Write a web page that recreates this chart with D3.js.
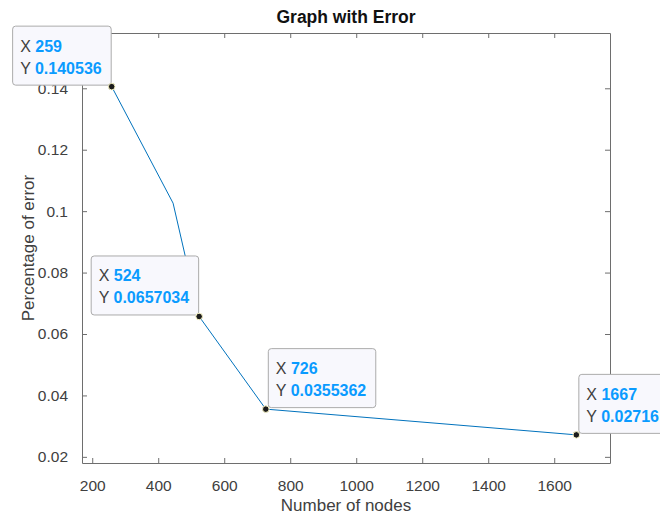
<!DOCTYPE html>
<html>
<head>
<meta charset="utf-8">
<script src="https://cdn.jsdelivr.net/npm/d3@7"></script>
<style>
  html, body { margin: 0; padding: 0; background: #fff; }
  svg { display: block; font-family: "Liberation Sans", Arial, Helvetica, sans-serif; }
</style>
</head>
<body>
<div id="chart"></div>
<script>
// values
const nodes = [259, 445, 524, 726, 1667];
const errors = [0.140536, 0.1026, 0.0657034, 0.0355362, 0.02716];
const xTicks = [200, 400, 600, 800, 1000, 1200, 1400, 1600];
const yTicks = [0.02, 0.04, 0.06, 0.08, 0.1, 0.12, 0.14];
// data tips: index into the series, side of the box, printed text
const tipIndex = [0, 2, 3, 4];
const tipSide = ["left", "left", "right", "right"];
const tipXText = ["259", "524", "726", "1667"];
const tipYText = ["0.140536", "0.0657034", "0.0355362", "0.02716"];

const W = 660, H = 516;
const plot = { left: 82, top: 33, right: 610, bottom: 463 };
const AXIS_COLOR = "#6e6e6e";
const TEXT_COLOR = "#404040";

const svg = d3.select("#chart").append("svg")
  .attr("width", W)
  .attr("height", H);

const x = d3.scaleLinear().domain([169, 1769]).range([plot.left, plot.right]);
const y = d3.scaleLinear().domain([0.018, 0.158]).range([plot.bottom, plot.top]);

const fmtX = d3.format("d");
const fmtY = d => String(+d.toFixed(2));

// axes, MATLAB style: box on, ticks pointing inward
function styleAxis(g) {
  g.select(".domain").attr("stroke", AXIS_COLOR).attr("stroke-width", 1);
  g.selectAll(".tick line").attr("stroke", AXIS_COLOR);
  g.selectAll(".tick text").attr("fill", TEXT_COLOR).style("font-size", "15.5px");
}

svg.append("g")
  .attr("transform", `translate(0,${plot.bottom})`)
  .call(d3.axisBottom(x).tickValues(xTicks).tickFormat(fmtX).tickSizeInner(-5).tickSizeOuter(0).tickPadding(17))
  .call(styleAxis);

svg.append("g")
  .attr("transform", `translate(0,${plot.top})`)
  .call(d3.axisTop(x).tickValues(xTicks).tickSizeInner(-5).tickSizeOuter(0).tickFormat(""))
  .call(styleAxis);

svg.append("g")
  .attr("transform", `translate(${plot.left},0)`)
  .call(d3.axisLeft(y).tickValues(yTicks).tickFormat(fmtY).tickSizeInner(-5).tickSizeOuter(0).tickPadding(14))
  .call(styleAxis);

svg.append("g")
  .attr("transform", `translate(${plot.right},0)`)
  .call(d3.axisRight(y).tickValues(yTicks).tickSizeInner(-5).tickSizeOuter(0).tickFormat(""))
  .call(styleAxis);

// title and labels
svg.append("text")
  .attr("x", (plot.left + plot.right) / 2)
  .attr("y", 23)
  .attr("text-anchor", "middle")
  .attr("font-weight", "bold")
  .style("font-size", "17.5px")
  .attr("fill", "#111")
  .text("Graph with Error");

svg.append("text")
  .attr("x", (plot.left + plot.right) / 2)
  .attr("y", 511)
  .attr("text-anchor", "middle")
  .style("font-size", "17px")
  .attr("fill", TEXT_COLOR)
  .text("Number of nodes");

svg.append("text")
  .attr("transform", `translate(34,${(plot.top + plot.bottom) / 2}) rotate(-90)`)
  .attr("text-anchor", "middle")
  .style("font-size", "17px")
  .attr("fill", TEXT_COLOR)
  .text("Percentage of error");

// the series
const pts = nodes.map((n, i) => [n, errors[i]]);
svg.append("path")
  .datum(pts)
  .attr("fill", "none")
  .attr("stroke", "#0072BD")
  .attr("stroke-width", 1)
  .attr("d", d3.line().x(d => x(d[0])).y(d => y(d[1])));

// data tips
tipIndex.forEach((idx, k) => {
  const px = x(nodes[idx]);
  const py = y(errors[idx]);
  const g = svg.append("g");
  const box = g.append("rect")
    .attr("rx", 3).attr("ry", 3)
    .attr("fill", "#f8f8fd")
    .attr("stroke", "#ababab")
    .attr("stroke-width", 1);

  const t = g.append("g").style("font-size", "16px");
  const rowX = t.append("text").attr("y", 26);
  rowX.append("tspan").attr("fill", TEXT_COLOR).text("X ");
  rowX.append("tspan").attr("fill", "#0a9bff").attr("font-weight", "bold").text(tipXText[k]);
  const rowY = t.append("text").attr("y", 48);
  rowY.append("tspan").attr("fill", TEXT_COLOR).text("Y ");
  rowY.append("tspan").attr("fill", "#0a9bff").attr("font-weight", "bold").text(tipYText[k]);

  const tw = Math.max(rowX.node().getComputedTextLength(), rowY.node().getComputedTextLength());
  const bw = tw + 17, bh = 59;
  const bx = tipSide[k] === "left" ? px - 1 - bw : px + 2;
  const by = py - 2 - bh;
  box.attr("x", bx + 0.5).attr("y", by + 0.5).attr("width", bw).attr("height", bh);
  t.attr("transform", `translate(${bx + 8},${by})`);

  svg.append("circle")
    .attr("cx", px).attr("cy", py).attr("r", 3.3)
    .attr("fill", "#1c1c1c")
    .attr("stroke", "#fbf7c8")
    .attr("stroke-width", 1);
});
</script>
</body>
</html>
